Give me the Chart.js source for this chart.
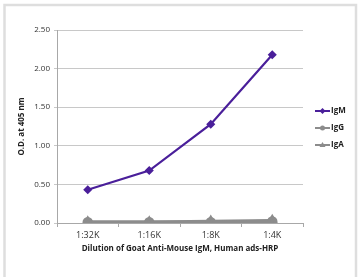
<!DOCTYPE html>
<html>
<head>
<meta charset="utf-8">
<script src="https://cdn.jsdelivr.net/npm/chart.js@4"></script>
<style>
body{margin:0;background:#fff}
#wrap{position:relative;width:358px;height:277px}
</style>
</head>
<body>
<div id="wrap"><canvas id="odChart" width="358" height="277"></canvas></div>
<script>
// =============================
// DATA
// =============================
const dilutions = ["1:32K","1:16K","1:8K","1:4K"]
const igm = [0.43, 0.68, 1.28, 2.18]
const igg = [0.01, 0.01, 0.01, 0.02]
const iga = [0.01, 0.01, 0.02, 0.03]
const yTicks = [0, 0.5, 1, 1.5, 2, 2.5]

const FONT = "'Open Sans', 'Liberation Sans', sans-serif"

// frame round the picture + legend on the right
const framePlugin = {
id:"frame",
beforeDraw(chart){
let c = chart.ctx
c.save()
c.fillStyle = "#fff"
c.fillRect(0,0,chart.width,chart.height)
c.strokeStyle = "#dedede"
c.lineWidth = 2.5
c.strokeRect(4.5,5,351.5,290)
c.restore()
},
afterDraw(chart){
let c = chart.ctx
c.save()
let x0 = 315, y0 = 111
chart.data.datasets.forEach((ds,i)=>{
let y = y0 + i*17
c.strokeStyle = ds.borderColor
c.lineWidth = 2
c.beginPath()
c.moveTo(x0,y)
c.lineTo(x0+15,y)
c.stroke()
c.fillStyle = ds.pointBackgroundColor
c.beginPath()
if(ds.pointStyle === "rectRot"){
c.moveTo(x0+7.5,y-3);c.lineTo(x0+10.5,y);c.lineTo(x0+7.5,y+3);c.lineTo(x0+4.5,y)
}else if(ds.pointStyle === "triangle"){
c.moveTo(x0+7.5,y-3);c.lineTo(x0+10.5,y+2);c.lineTo(x0+4.5,y+2)
}else{
c.arc(x0+7.5,y,2.5,0,Math.PI*2)
}
c.closePath()
c.fill()
c.fillStyle = "#222"
c.font = "bold 8px " + FONT
c.textBaseline = "middle"
c.fillText(ds.label, x0+16, y)
})
c.restore()
}
}

const ctx = document.getElementById("odChart").getContext("2d")

new Chart(ctx,{
type:"line",
data:{
labels:dilutions,
datasets:[
{
label:"IgM",
data:igm,
borderColor:"#4a1f9a",
backgroundColor:"#4a1f9a",
pointBackgroundColor:"#4a1f9a",
pointBorderColor:"#4a1f9a",
borderWidth:2.2,
pointStyle:"rectRot",
pointRadius:3,
tension:0
},
{
label:"IgG",
data:igg,
borderColor:"#8c8c8c",
backgroundColor:"#8c8c8c",
pointBackgroundColor:"#8c8c8c",
pointBorderColor:"#8c8c8c",
borderWidth:3.5,
pointStyle:"circle",
pointRadius:3.5,
tension:0
},
{
label:"IgA",
data:iga,
borderColor:"#8c8c8c",
backgroundColor:"#8c8c8c",
pointBackgroundColor:"#8c8c8c",
pointBorderColor:"#8c8c8c",
borderWidth:3.5,
pointStyle:"triangle",
pointRadius:3.5,
tension:0
}
]
},
options:{
responsive:false,
animation:false,
layout:{padding:{left:0,right:55,top:30,bottom:0}},
plugins:{legend:{display:false},tooltip:{enabled:false}},
scales:{
x:{
offset:true,
grid:{
offset:true,
drawOnChartArea:false,
drawTicks:true,
tickLength:4,
color:"#a8a8a8"
},
border:{color:"#a8a8a8",width:1},
ticks:{color:"#333",font:{size:9,family:FONT},padding:3,maxRotation:0},
title:{
display:true,
text:"Dilution of Goat Anti-Mouse IgM, Human ads-HRP",
color:"#222",
font:{size:8,weight:"bold",family:FONT},
padding:{top:3,bottom:23}
},
afterFit(s){ s.height = 54 }
},
y:{
min:0,
max:2.5,
afterBuildTicks(s){ s.ticks = yTicks.map(v=>({value:v})) },
grid:{color:"#c8c8c8",tickLength:3,lineWidth:1},
border:{color:"#a8a8a8",width:1},
ticks:{
color:"#333",
font:{size:8,family:FONT},
padding:4,
callback:v=>Number(v).toFixed(2)
},
title:{
display:true,
text:"O.D. at 405 nm",
color:"#222",
font:{size:8,weight:"bold",family:FONT},
padding:{top:17,bottom:0}
},
afterFit(s){ s.width = 57 }
}
}
},
plugins:[framePlugin]
})
</script>
</body>
</html>
